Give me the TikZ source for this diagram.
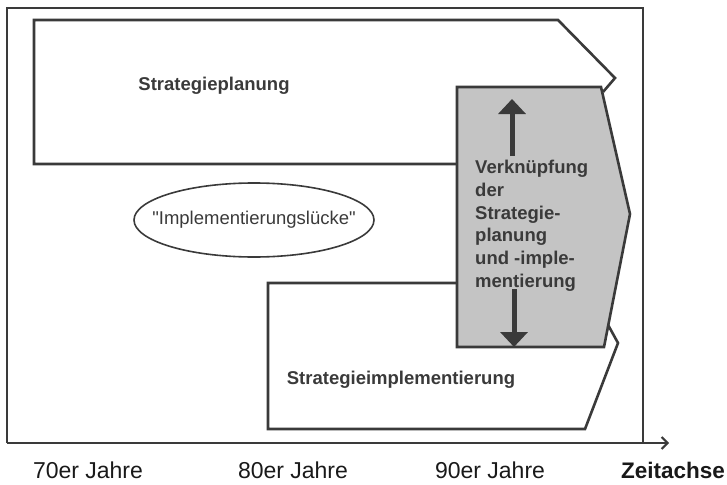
\documentclass[tikz,border=0pt]{standalone}
\usepackage{fontspec}
\setmainfont{Liberation Sans}
\usetikzlibrary{calc}
\usetikzlibrary{arrows.meta}
\usetikzlibrary{shapes.geometric}

\definecolor{ink}{HTML}{3A3A3A}
\definecolor{shade}{HTML}{C4C4C4}

\tikzset{
  phase/.style={draw=ink, line width=2.6pt, line join=miter},
  phasetext/.style={text=ink, font=\bfseries\fontsize{18.5}{22.7}\selectfont, inner sep=0pt},
  eratext/.style={text=black!90, font=\fontsize{23}{26}\selectfont, inner sep=0pt},
  bigarrow/.style={draw=ink, line width=5pt, -{Triangle[length=15pt,width=27pt]}},
}

\begin{document}
\begin{tikzpicture}[x=1pt,y=-1pt]
  \useasboundingbox (0,0) rectangle (727,484);
  % frame and time axis
  \coordinate (axisstart) at (7,443);
  \coordinate (axisend) at (669,443);
  \draw[line width=1.3pt, draw=ink] (7,443) |- (643,8) -- (643,443);
  \draw[line width=2pt, draw=ink, -{Straight Barb[length=6pt,width=12pt]}] (axisstart) -- (axisend);

  % phases
  \draw[phase] (457,164) -- (34,164) -- (34,20) -- (558,20) -- (615,78) -- (603,92);
  \draw[phase] (457,283) -- (268,283) -- (268,429) -- (585,429) -- (618,343) -- (607,323);
  \draw[phase, fill=shade] (457,87) -- (601,87) -- (630,214) -- (604,347) -- (457,347) -- cycle;

  \node[phasetext] at (214,86) (planung) {Strategieplanung};
  \node[phasetext] at (401,380) (implementierung) {Strategieimplementierung};
  \node[phasetext, align=left, anchor=north west] at (475,160) (verknuepfung)
    {Verkn\"upfung\\der\\Strategie-\\planung\\und -imple-\\mentierung};

  % the gap
  \node[text=ink, font=\fontsize{18.5}{22}\selectfont, inner sep=0pt] at (254,220) (luecke)
    {\textquotedbl Implementierungsl\"ucke\textquotedbl};
  \draw[draw=ink, line width=1.6pt] (luecke.center) ellipse [x radius=120, y radius=37];

  % arrows inside the link box
  \coordinate (uptail) at (512,156);
  \coordinate (uphead) at (512,99);
  \coordinate (downtail) at (514,289);
  \coordinate (downhead) at (514,347);
  \draw[bigarrow] (uptail) -- (uphead);
  \draw[bigarrow] (downtail) -- (downhead);

  % axis labels
  \node[eratext] at (88,470) (siebziger) {70er Jahre};
  \node[eratext] at (293,470) (achtziger) {80er Jahre};
  \node[eratext] at (490,470) (neunziger) {90er Jahre};
  \node[eratext, font=\bfseries\fontsize{22.5}{26}\selectfont] at (673,470) (zeitachse) {Zeitachse};
\end{tikzpicture}
\end{document}
